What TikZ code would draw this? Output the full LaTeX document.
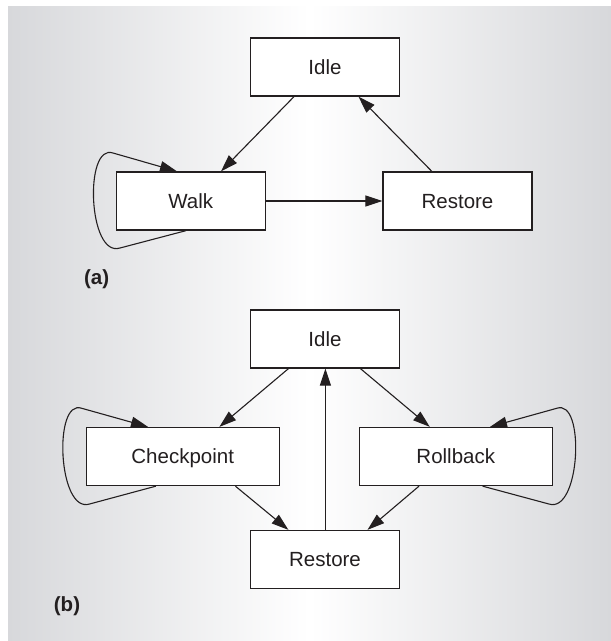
\documentclass[tikz,border=0pt]{standalone}
\usepackage{fontspec}
\setmainfont{Liberation Sans}
\usetikzlibrary{arrows.meta,calc}
\definecolor{bggray}{RGB}{215,216,219}
\definecolor{ink}{RGB}{35,31,32}
\begin{document}
\begin{tikzpicture}[x=1pt,y=-1pt,
  state/.style={draw=ink,fill=white,line width=1.3pt,minimum height=58pt,inner sep=0pt,
    text height=16pt,text depth=1.3pt,
    font=\fontsize{20.5}{24}\selectfont,text=ink},
  narrow/.style={minimum width=149pt},
  wide/.style={minimum width=193pt},
  conn/.style={draw=ink,line width=1.1pt,-{Triangle[length=17pt,width=11pt]}},
  tag/.style={font=\fontsize{20.5}{24}\selectfont\bfseries,text=ink}]
\useasboundingbox (0,0) rectangle (611,641);
\shade[left color=bggray,right color=bggray,middle color=white] (8,6) rectangle (611,641);
% (a)
\node[state,narrow] (idleA) at (325,67) {Idle};
\node[state,narrow] (walk) at (190.7,201) {Walk};
\node[state,narrow] (restA) at (457.5,201) {Restore};
\node[tag] (la) at (96.6,279) {(a)};
\draw[conn] ([xshift=-31pt]idleA.south) -- ([xshift=30.3pt]walk.north);
\draw[conn] ([xshift=-25.7pt]restA.north) -- ([xshift=33.5pt]idleA.south);
\draw[conn] (walk.east) -- (restA.west);
\draw[conn] ([xshift=-4.7pt]walk.south) -- (120,248) .. controls (88,258) and (84,143) .. (113,153) -- ([xshift=-13.7pt]walk.north);
% (b)
\node[state,narrow] (idleB) at (325,339) {Idle};
\node[state,wide] (chk) at (182.7,456.5) {Checkpoint};
\node[state,wide] (roll) at (455.8,456.5) {Rollback};
\node[state,narrow] (restB) at (325,559.5) {Restore};
\node[tag] (lb) at (67,606) {(b)};
\draw[conn] ([xshift=-36.6pt]idleB.south) -- ([xshift=36.7pt]chk.north);
\draw[conn] ([xshift=35.5pt]idleB.south) -- ([xshift=-26pt]roll.north);
\draw[conn] ([xshift=0.4pt]restB.north) -- ([xshift=0.4pt]idleB.south);
\draw[conn] ([xshift=52.7pt]chk.south) -- ([xshift=-36.6pt]restB.north);
\draw[conn] ([xshift=-36.8pt]roll.south) -- ([xshift=42.5pt]restB.north);
\draw[conn] ([xshift=-26.8pt]chk.south) -- (89.6,504) .. controls (58,514) and (53,398) .. (81.8,408.3) -- ([xshift=-34.7pt]chk.north);
\draw[conn] ([xshift=26.8pt]roll.south) -- (548.9,504) .. controls (580.5,514) and (585.5,398) .. (556.7,408.3) -- ([xshift=34.2pt]roll.north);
\end{tikzpicture}
\end{document}
